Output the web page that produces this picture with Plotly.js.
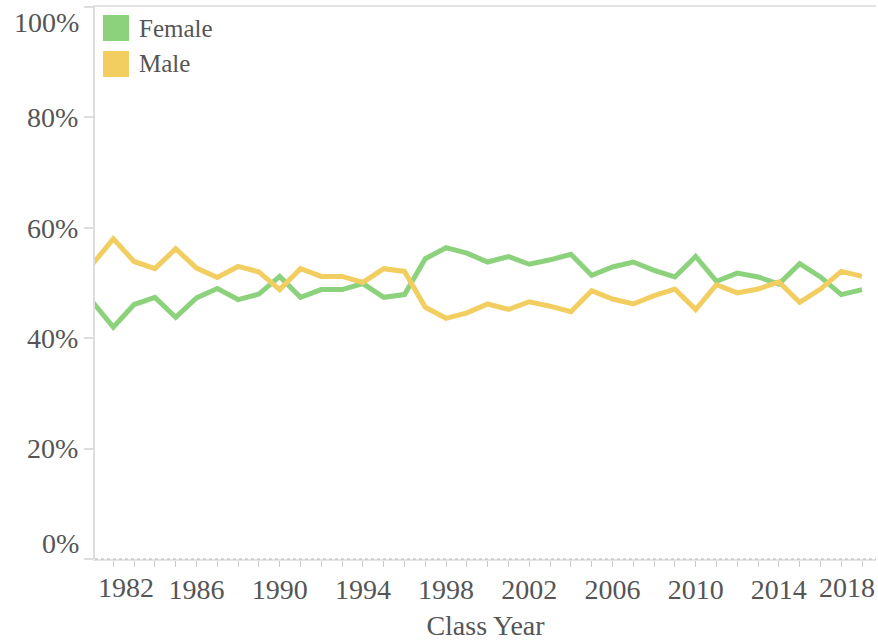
<!DOCTYPE html>
<html><head><meta charset="utf-8">
<script src="https://cdn.plot.ly/plotly-3.0.1.min.js"></script>
<style>html,body{margin:0;padding:0;background:#fff}#chart{width:878px;height:641px}</style>
</head><body><div id="chart"></div>
<script>
const years = [1981,1982,1983,1984,1985,1986,1987,1988,1989,1990,1991,1992,1993,1994,1995,1996,1997,1998,1999,2000,2001,2002,2003,2004,2005,2006,2007,2008,2009,2010,2011,2012,2013,2014,2015,2016,2017,2018];
const female = [46.6,42.0,46.1,47.4,43.8,47.3,49.0,47.0,48.0,51.2,47.4,48.8,48.8,49.9,47.4,47.9,54.4,56.4,55.4,53.8,54.8,53.4,54.2,55.2,51.4,52.9,53.8,52.3,51.1,54.8,50.3,51.8,51.1,49.8,53.5,51.1,47.9,48.8];
const male = [53.4,58.0,53.9,52.6,56.2,52.7,51.0,53.0,52.0,48.8,52.6,51.2,51.2,50.1,52.6,52.1,45.6,43.6,44.6,46.2,45.2,46.6,45.8,44.8,48.6,47.1,46.2,47.7,48.9,45.2,49.7,48.2,48.9,50.2,46.5,48.9,52.1,51.2];
const seriesNames = ['Female', 'Male'];
const xTickYears = [1982,1986,1990,1994,1998,2002,2006,2010,2014,2018];
const yTickVals = [0,20,40,60,80,100];
const yTickLabels = ['0%','20%','40%','60%','80%','100%'];
const xTitle = 'Class Year';

const colors = ['#8cd27d', '#f2cd60'];
const FONT = 'Liberation Serif, Times New Roman, serif';
const TXT = '#555555';
const FS = 28;

const traces = [female, male].map((vals, i) => ({
  type: 'scatter', mode: 'lines', x: years, y: vals, name: seriesNames[i],
  line: {color: colors[i], width: 5}, showlegend: false, hoverinfo: 'skip'
}));

const lastX = xTickYears.length - 1;
const lastY = yTickVals.length - 1;

const annotations = [
  {xref: 'paper', yref: 'y', x: 0, y: yTickVals[lastY], xanchor: 'right', yanchor: 'top', xshift: -14, yshift: 2,
   text: yTickLabels[lastY], showarrow: false, font: {family: FONT, size: FS, color: TXT}},
  {xref: 'paper', yref: 'y', x: 0, y: yTickVals[0], xanchor: 'right', yanchor: 'bottom', xshift: -14, yshift: -2,
   text: yTickLabels[0], showarrow: false, font: {family: FONT, size: FS, color: TXT}},
  {xref: 'paper', yref: 'paper', x: 0, y: 0, xanchor: 'left', yanchor: 'top', xshift: 1, yshift: -11,
   text: String(xTickYears[0]), showarrow: false, font: {family: FONT, size: FS, color: TXT}},
  {xref: 'paper', yref: 'paper', x: 1, y: 0, xanchor: 'right', yanchor: 'top', xshift: 1, yshift: -11,
   text: String(xTickYears[lastX]), showarrow: false, font: {family: FONT, size: FS, color: TXT}}
];

const legendY = [[0.9855, 0.9384], [0.9203, 0.8732]];
const shapes = [
  {type: 'line', xref: 'paper', yref: 'paper', x0: 0, x1: 1, y0: 0, y1: 0,
   line: {color: '#b5b5b5', width: 1, dash: 'dot'}, layer: 'above'}
];
seriesNames.forEach((n, i) => {
  shapes.push({type: 'rect', xref: 'paper', yref: 'paper', x0: 0.0102, x1: 0.0435,
    y0: legendY[i][1], y1: legendY[i][0], fillcolor: colors[i], line: {width: 0}});
  annotations.push({xref: 'paper', yref: 'paper', x: 0.0535, y: (legendY[i][0] + legendY[i][1]) / 2,
    xanchor: 'left', yanchor: 'middle', text: n, showarrow: false,
    font: {family: FONT, size: 25, color: TXT}});
});

const layout = {
  width: 878, height: 641,
  margin: {l: 95, r: 2, t: 7, b: 82},
  paper_bgcolor: '#fff', plot_bgcolor: '#fff',
  font: {family: FONT, size: FS, color: TXT},
  showlegend: false,
  xaxis: {
    range: [1981.12, 2018.67], showgrid: false, zeroline: false,
    showline: true, linecolor: '#e3e3e3', linewidth: 2, mirror: true,
    tickmode: 'array', tickvals: xTickYears,
    ticktext: xTickYears.map((v, i) => (i === 0 || i === lastX) ? '' : String(v)),
    ticks: 'outside', ticklen: 6, tickcolor: '#cccccc', tickwidth: 1,
    ticklabelstandoff: -2,
    minor: {dtick: 1, tick0: 1981, ticks: 'outside', ticklen: 6, tickcolor: '#cccccc', tickwidth: 1, showgrid: false},
    tickfont: {family: FONT, size: FS, color: TXT},
    title: {text: xTitle, font: {family: FONT, size: FS, color: TXT}, standoff: 14}
  },
  yaxis: {
    range: [0, 100], showgrid: false, zeroline: false,
    showline: true, linecolor: '#dddddd', linewidth: 2,
    tickmode: 'array', tickvals: yTickVals,
    ticktext: yTickLabels.map((t, i) => (i === 0 || i === lastY) ? '' : t),
    ticks: 'outside', ticklen: 9, tickcolor: '#dddddd', tickwidth: 2,
    tickfont: {family: FONT, size: FS, color: TXT}
  },
  shapes: shapes,
  annotations: annotations
};

Plotly.newPlot('chart', traces, layout, {staticPlot: true, displayModeBar: false});
</script>
</body></html>
